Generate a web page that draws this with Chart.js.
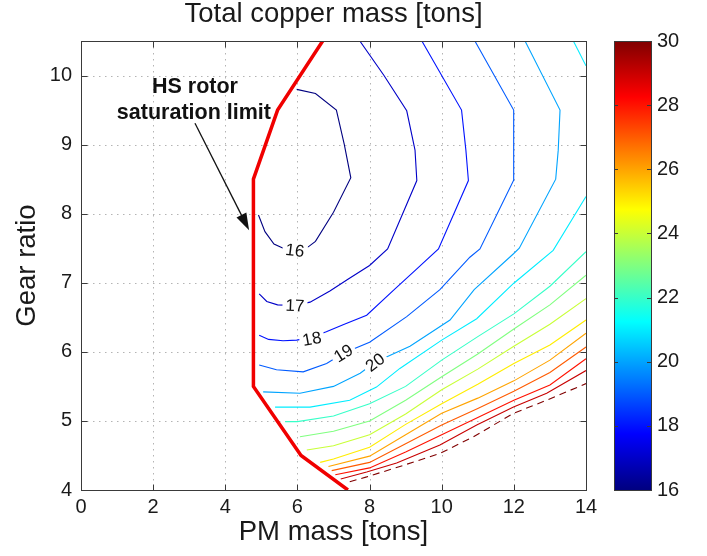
<!DOCTYPE html>
<html>
<head>
<meta charset="utf-8">
<title>Total copper mass</title>
<script src="https://cdn.jsdelivr.net/npm/chart.js@4.4.1/dist/chart.umd.min.js"></script>
<style>
  html, body { margin: 0; padding: 0; background: #fff; }
  canvas { display: block; }
</style>
</head>
<body>
<canvas id="copperChart" width="707" height="556"></canvas>
<script>
// axis ticks
const xTicks = [0, 2, 4, 6, 8, 10, 12, 14];
const yTicks = [4, 5, 6, 7, 8, 9, 10];
const cbTicks = [16, 18, 20, 22, 24, 26, 28, 30];

// contour lines of total copper mass, [PM mass, gear ratio]
const c16 = [[4.92, 7.98], [5.1, 7.74], [5.35, 7.56], [5.65, 7.49], [5.95, 7.47], [6.3, 7.52], [6.5, 7.6], [7.0, 8.02], [7.48, 8.52], [7.3, 9.0], [7.08, 9.5], [6.5, 9.74], [5.98, 9.8]];
const c17 = [[4.94, 6.84], [5.15, 6.73], [5.45, 6.68], [5.93, 6.67], [6.35, 6.72], [6.9, 6.88], [7.4, 7.05], [8.0, 7.25], [8.5, 7.49], [9.31, 8.48], [9.26, 8.92], [9.03, 9.49], [8.4, 10.0], [7.73, 10.5]];
const c18 = [[4.94, 6.24], [5.2, 6.18], [5.6, 6.16], [5.98, 6.17], [6.4, 6.21], [6.8, 6.29], [7.3, 6.4], [7.92, 6.53], [8.66, 6.89], [9.31, 7.2], [9.91, 7.49], [10.74, 8.48], [10.67, 8.92], [10.55, 9.5], [9.45, 10.5]];
const c19 = [[4.94, 5.81], [5.42, 5.74], [6.16, 5.71], [6.81, 5.83], [7.27, 5.98], [8.0, 6.14], [9.03, 6.51], [9.95, 6.9], [10.78, 7.37], [11.06, 7.49], [11.99, 8.48], [11.99, 8.92], [12.0, 9.5], [10.92, 10.5]];
const c20 = [[5.05, 5.42], [6.07, 5.4], [7.0, 5.5], [7.74, 5.69], [8.15, 5.85], [9.12, 6.08], [10.23, 6.46], [10.9, 6.9], [11.99, 7.42], [12.15, 7.5], [13.16, 8.5], [13.23, 8.92], [13.28, 9.5], [12.31, 10.5]];
const c21 = [[5.38, 5.2], [6.35, 5.2], [7.45, 5.3], [8.19, 5.49], [8.84, 5.76], [10.0, 6.17], [10.97, 6.48], [11.99, 6.99], [13.09, 7.47], [14.0, 8.25]];
const c21top = [[13.65, 10.5], [14.0, 10.14]];
const c22 = [[5.66, 4.99], [6.0, 4.99], [7.0, 5.07], [8.0, 5.25], [9.0, 5.5], [10.0, 5.88], [11.0, 6.22], [12.0, 6.55], [13.0, 6.95], [14.0, 7.45]];
const c23 = [[6.07, 4.77], [7.0, 4.85], [8.0, 5.0], [9.0, 5.3], [10.0, 5.64], [11.0, 5.97], [12.0, 6.33], [13.0, 6.68], [14.0, 7.11]];
const c24 = [[6.26, 4.58], [7.0, 4.64], [8.0, 4.8], [9.0, 5.1], [10.0, 5.45], [11.0, 5.75], [12.0, 6.08], [13.0, 6.4], [14.0, 6.77]];
const c25 = [[6.63, 4.4], [7.0, 4.45], [8.0, 4.62], [9.0, 4.95], [10.0, 5.25], [11.0, 5.53], [12.0, 5.83], [13.0, 6.1], [14.0, 6.46]];
const c26 = [[6.86, 4.34], [8.0, 4.49], [9.0, 4.8], [10.0, 5.11], [11.0, 5.33], [12.0, 5.58], [13.0, 5.88], [14.0, 6.27]];
const c27 = [[6.95, 4.28], [8.0, 4.4], [9.0, 4.67], [10.0, 4.94], [11.0, 5.18], [12.0, 5.43], [13.0, 5.7], [14.0, 6.07]];
const c28 = [[7.05, 4.22], [8.0, 4.32], [9.0, 4.55], [10.0, 4.8], [11.0, 5.05], [12.0, 5.3], [13.0, 5.52], [14.0, 5.9]];
const c29 = [[7.2, 4.16], [7.92, 4.26], [8.75, 4.39], [9.95, 4.65], [10.97, 4.94], [11.99, 5.2], [12.91, 5.4], [14.0, 5.73]];
const c30 = [[7.45, 4.12], [7.92, 4.19], [8.84, 4.34], [9.95, 4.53], [10.88, 4.77], [11.99, 5.11], [12.91, 5.3], [14.0, 5.54]];

// HS rotor saturation limit
const limitLine = [[6.7, 10.5], [5.45, 9.5], [4.78, 8.5], [4.78, 5.5], [6.1, 4.5], [7.4, 4.0]];

// inline level labels [level, x, y]
const contourLabels = [[16, 5.93, 7.47], [17, 5.93, 6.67], [18, 6.4, 6.19], [19, 7.27, 5.98], [20, 8.15, 5.85]];

// annotation text and arrow
const noteText = [['HS rotor', 3.16, 9.84], ['saturation limit', 3.13, 9.46]];
const noteArrow = [[3.16, 9.31], [4.66, 7.76]];

const contours = [
  { level: 16, pts: c16 }, { level: 17, pts: c17 }, { level: 18, pts: c18 },
  { level: 19, pts: c19 }, { level: 20, pts: c20 }, { level: 21, pts: c21 },
  { level: 21, pts: c21top }, { level: 22, pts: c22 }, { level: 23, pts: c23 },
  { level: 24, pts: c24 }, { level: 25, pts: c25 }, { level: 26, pts: c26 },
  { level: 27, pts: c27 }, { level: 28, pts: c28 }, { level: 29, pts: c29 },
  { level: 30, pts: c30 },
];

const FONT = "'Liberation Sans', Arial, Helvetica, sans-serif";
Chart.defaults.font.family = FONT;
Chart.defaults.color = '#1a1a1a';

// MATLAB style jet colormap over 16..30
function jet(level) {
  const t = (level - 16) / 14;
  const f = (a) => Math.round(255 * Math.max(0, Math.min(1, a)));
  const r = f(Math.min(4 * t - 1.5, -4 * t + 4.5));
  const g = f(Math.min(4 * t - 0.5, -4 * t + 3.5));
  const b = f(Math.min(4 * t + 0.5, -4 * t + 2.5));
  return `rgb(${r},${g},${b})`;
}

const toXY = (pts) => pts.map(([x, y]) => ({ x, y }));

const datasets = [{
  data: toXY(limitLine),
  borderColor: 'rgb(240,0,0)',
  borderWidth: 3.5,
  showLine: true,
  pointRadius: 0,
}];
contours.forEach((c) => {
  datasets.push({
    data: toXY(c.pts),
    borderColor: jet(c.level),
    borderWidth: 1.1,
    borderDash: c.level === 30 ? [7, 5] : [],
    showLine: true,
    pointRadius: 0,
  });
});

function segAngle(pts, px, py, x, y) {
  // angle of the contour segment closest to the label point
  let best = Infinity, ang = 0;
  for (let i = 0; i < pts.length - 1; i++) {
    const ax = x.getPixelForValue(pts[i][0]), ay = y.getPixelForValue(pts[i][1]);
    const bx = x.getPixelForValue(pts[i + 1][0]), by = y.getPixelForValue(pts[i + 1][1]);
    const dx = bx - ax, dy = by - ay;
    const len2 = dx * dx + dy * dy || 1;
    let t = ((px - ax) * dx + (py - ay) * dy) / len2;
    t = Math.max(0, Math.min(1, t));
    const d = Math.hypot(ax + t * dx - px, ay + t * dy - py);
    if (d < best) {
      best = d;
      ang = Math.atan2(dy, dx);
    }
  }
  if (ang > Math.PI / 2) ang -= Math.PI;
  if (ang < -Math.PI / 2) ang += Math.PI;
  return ang;
}

const matlabFrame = {
  id: 'matlabFrame',
  beforeDatasetsDraw(chart) {
    const { ctx, chartArea: a, scales: { x, y, cb } } = chart;
    ctx.save();
    // dotted grid
    ctx.strokeStyle = '#b4b4b4';
    ctx.lineWidth = 1;
    ctx.setLineDash([1.5, 4.5]);
    xTicks.forEach((v) => {
      const px = Math.round(x.getPixelForValue(v)) + 0.5;
      if (px <= a.left + 2 || px >= a.right - 2) return;
      ctx.beginPath(); ctx.moveTo(px, a.top); ctx.lineTo(px, a.bottom); ctx.stroke();
    });
    yTicks.forEach((v) => {
      const py = Math.round(y.getPixelForValue(v)) + 0.5;
      if (py <= a.top + 2 || py >= a.bottom - 2) return;
      ctx.beginPath(); ctx.moveTo(a.left, py); ctx.lineTo(a.right, py); ctx.stroke();
    });
    ctx.setLineDash([]);

    // colour bar
    const top = cb.getPixelForValue(30), bottom = cb.getPixelForValue(16);
    const left = a.right + 28, w = 37;
    const grad = ctx.createLinearGradient(0, bottom, 0, top);
    for (let i = 0; i <= 64; i++) grad.addColorStop(i / 64, jet(16 + 14 * i / 64));
    ctx.fillStyle = grad;
    ctx.fillRect(left, top, w, bottom - top);
    ctx.strokeStyle = '#3a3a3a';
    ctx.lineWidth = 1;
    ctx.strokeRect(Math.round(left) + 0.5, Math.round(top) + 0.5, w, Math.round(bottom - top));
    cbTicks.forEach((v) => {
      const py = Math.round(cb.getPixelForValue(v)) + 0.5;
      ctx.beginPath();
      ctx.moveTo(left, py); ctx.lineTo(left + 4, py);
      ctx.moveTo(left + w, py); ctx.lineTo(left + w - 4, py);
      ctx.stroke();
    });
    ctx.restore();
  },
  afterDatasetsDraw(chart) {
    const { ctx, chartArea: a, scales: { x, y } } = chart;
    ctx.save();

    // axes box with inward ticks
    ctx.strokeStyle = '#3a3a3a';
    ctx.lineWidth = 1;
    const L = Math.round(a.left) + 0.5, R = Math.round(a.right) + 0.5;
    const T = Math.round(a.top) + 0.5, B = Math.round(a.bottom) + 0.5;
    ctx.strokeRect(L, T, R - L, B - T);
    ctx.beginPath();
    xTicks.forEach((v) => {
      const px = Math.round(x.getPixelForValue(v)) + 0.5;
      ctx.moveTo(px, B); ctx.lineTo(px, B - 6);
      ctx.moveTo(px, T); ctx.lineTo(px, T + 6);
    });
    yTicks.forEach((v) => {
      const py = Math.round(y.getPixelForValue(v)) + 0.5;
      ctx.moveTo(L, py); ctx.lineTo(L + 6, py);
      ctx.moveTo(R, py); ctx.lineTo(R - 6, py);
    });
    ctx.stroke();

    // inline contour labels
    ctx.font = `17px ${FONT}`;
    ctx.textAlign = 'center';
    ctx.textBaseline = 'middle';
    contourLabels.forEach(([lv, lx, ly]) => {
      const c = contours.find((k) => k.level === lv);
      const px = x.getPixelForValue(lx), py = y.getPixelForValue(ly);
      const ang = segAngle(c.pts, px, py, x, y);
      const tw = ctx.measureText(String(lv)).width;
      ctx.save();
      ctx.translate(px, py);
      ctx.rotate(ang);
      ctx.fillStyle = '#fff';
      ctx.fillRect(-tw / 2 - 3, -7, tw + 6, 14);
      ctx.fillStyle = '#111';
      ctx.fillText(String(lv), 0, 1);
      ctx.restore();
    });

    // saturation limit annotation
    ctx.font = `bold 21.5px ${FONT}`;
    ctx.fillStyle = '#111';
    noteText.forEach(([txt, nx, ny]) => {
      ctx.fillText(txt, x.getPixelForValue(nx), y.getPixelForValue(ny));
    });
    const [t0, t1] = noteArrow;
    const ax = x.getPixelForValue(t0[0]), ay = y.getPixelForValue(t0[1]);
    const bx = x.getPixelForValue(t1[0]), by = y.getPixelForValue(t1[1]);
    const ang = Math.atan2(by - ay, bx - ax);
    const head = 17, half = 5.5;
    ctx.strokeStyle = '#111';
    ctx.lineWidth = 1.3;
    ctx.beginPath();
    ctx.moveTo(ax, ay);
    ctx.lineTo(bx - (head - 2) * Math.cos(ang), by - (head - 2) * Math.sin(ang));
    ctx.stroke();
    ctx.beginPath();
    ctx.moveTo(bx, by);
    ctx.lineTo(bx - head * Math.cos(ang) + half * Math.sin(ang), by - head * Math.sin(ang) - half * Math.cos(ang));
    ctx.lineTo(bx - head * Math.cos(ang) - half * Math.sin(ang), by - head * Math.sin(ang) + half * Math.cos(ang));
    ctx.closePath();
    ctx.fill();
    ctx.restore();
  },
};

new Chart(document.getElementById('copperChart'), {
  type: 'scatter',
  data: { datasets },
  options: {
    responsive: false,
    animation: false,
    layout: { padding: 0 },
    elements: { line: { tension: 0 } },
    plugins: {
      legend: { display: false },
      tooltip: { enabled: false },
      title: {
        display: true,
        fullSize: false,
        text: 'Total copper mass [tons]',
        color: '#1a1a1a',
        font: { size: 27.5, weight: 'normal', lineHeight: 1 },
        padding: { top: 0.75, bottom: 12.75 },
      },
    },
    scales: {
      x: {
        type: 'linear',
        min: 0,
        max: 14,
        grid: { display: false, drawTicks: false },
        border: { display: false },
        afterBuildTicks: (s) => { s.ticks = xTicks.map((v) => ({ value: v })); },
        afterFit: (s) => { s.height = 66; },
        ticks: { font: { size: 20 }, color: '#1a1a1a', padding: 5, maxRotation: 0 },
        title: {
          display: true,
          text: 'PM mass [tons]',
          color: '#1a1a1a',
          font: { size: 27.5 },
          padding: { top: 0, bottom: 7 },
        },
      },
      y: {
        type: 'linear',
        position: 'left',
        min: 4,
        max: 10.5,
        grid: { display: false, drawTicks: false },
        border: { display: false },
        afterBuildTicks: (s) => { s.ticks = yTicks.map((v) => ({ value: v })); },
        afterFit: (s) => { s.width = 81; s.paddingTop = 0; s.paddingBottom = 0; },
        ticks: { font: { size: 20 }, color: '#1a1a1a', padding: 9 },
        title: {
          display: true,
          text: 'Gear ratio',
          color: '#1a1a1a',
          font: { size: 27.5 },
          padding: { top: 11, bottom: 0 },
        },
      },
      cb: {
        type: 'linear',
        position: 'right',
        min: 16,
        max: 30,
        grid: { display: false, drawTicks: false },
        border: { display: false },
        afterBuildTicks: (s) => { s.ticks = cbTicks.map((v) => ({ value: v })); },
        // labels sit right of the colour bar; keep them from padding the plot area
        afterFit: (s) => { s.width = 121; s.paddingTop = 0; s.paddingBottom = 0; },
        ticks: { font: { size: 20 }, color: '#1a1a1a', padding: 71 },
      },
    },
  },
  plugins: [matlabFrame],
});
</script>
</body>
</html>
